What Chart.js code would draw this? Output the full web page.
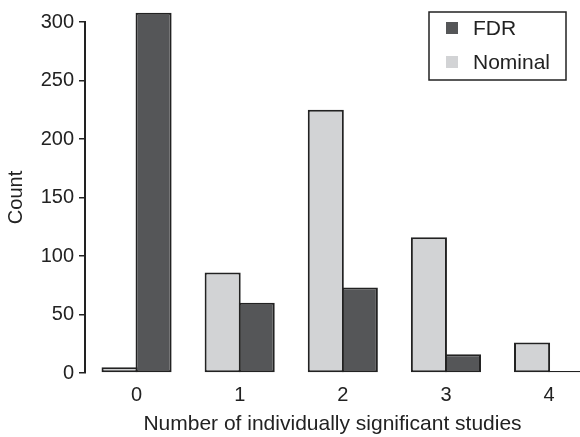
<!DOCTYPE html>
<html>
<head>
<meta charset="utf-8">
<script src="https://cdn.jsdelivr.net/npm/chart.js@4.4.1/dist/chart.umd.min.js"></script>
<style>
    html, body { margin: 0; padding: 0; overflow: hidden; background: #fff; }
    #wrap { width: 580px; height: 437px; }
</style>
</head>
<body>
<div id="wrap"><canvas id="chart" width="580" height="437"></canvas></div>
<script>
// Dados
const studyCounts = [0, 1, 2, 3, 4];
const nominalCounts = [5, 86, 225, 116, 26];
const fdrCounts = [308, 60, 73, 16, 1];
const countTicks = [0, 50, 100, 150, 200, 250, 300];

const FONT = '"Liberation Sans", Arial, Helvetica, sans-serif';
const INK = '#222';

// Legenda com moldura, desenhada no canto superior direito
const boxLegend = {
    id: 'boxLegend',
    afterDraw(chart) {
        const ctx = chart.ctx;
        const items = chart.data.datasets.slice().reverse();
        ctx.save();
        ctx.fillStyle = '#fff';
        ctx.fillRect(429, 12, 137, 68);
        ctx.lineWidth = 1.5;
        ctx.strokeStyle = INK;
        ctx.strokeRect(429, 12, 137, 68);
        ctx.font = '21px ' + FONT;
        ctx.textBaseline = 'middle';
        items.forEach((ds, i) => {
            const y = 28 + i * 34;
            ctx.fillStyle = ds.backgroundColor;
            ctx.fillRect(446, y - 6, 12, 12);
            ctx.fillStyle = INK;
            ctx.fillText(ds.label, 473, y + 1);
        });
        ctx.restore();
    }
};

new Chart(document.getElementById('chart'), {
    type: 'bar',
    data: {
        labels: studyCounts,
        datasets: [
            {
                label: 'Nominal',
                data: nominalCounts,
                backgroundColor: '#d2d3d5',
                borderColor: INK,
                borderWidth: 2,
                borderSkipped: false,
                minBarLength: 2,
                clip: false
            },
            {
                label: 'FDR',
                data: fdrCounts,
                backgroundColor: '#555658',
                borderColor: INK,
                borderWidth: 2,
                borderSkipped: false,
                minBarLength: 2,
                clip: false
            }
        ]
    },
    options: {
        responsive: false,
        animation: false,
        layout: { padding: { top: 22, right: 0, left: 0, bottom: 0 } },
        datasets: {
            bar: { barPercentage: 1.06, categoryPercentage: 0.66 }
        },
        plugins: {
            legend: { display: false },
            tooltip: { enabled: false }
        },
        scales: {
            x: {
                type: 'linear',
                min: -0.5,
                max: 4.3,
                offset: false,
                grid: { display: false, drawTicks: false },
                border: { display: false },
                ticks: {
                    color: INK,
                    font: { family: FONT, size: 20 },
                    padding: 10,
                    callback: v => String(v)
                },
                afterBuildTicks(scale) {
                    scale.ticks = studyCounts.map(v => ({ value: v }));
                },
                title: {
                    display: true,
                    text: 'Number of individually significant studies',
                    color: INK,
                    font: { family: FONT, size: 21 },
                    padding: { top: 0, bottom: 0 }
                },
                afterFit(scale) { scale.height = 64; }
            },
            y: {
                min: 0,
                max: 300,
                grid: { drawOnChartArea: false, drawTicks: true, tickLength: 6, color: INK, lineWidth: 1.5 },
                border: { display: true, color: INK, width: 2 },
                ticks: { color: INK, font: { family: FONT, size: 20 }, padding: 5 },
                afterBuildTicks(scale) {
                    scale.ticks = countTicks.map(v => ({ value: v }));
                },
                title: {
                    display: true,
                    text: 'Count',
                    color: INK,
                    font: { family: FONT, size: 20 },
                    padding: { top: 4, bottom: 0 }
                },
                afterFit(scale) { scale.width = 85; }
            }
        }
    },
    plugins: [boxLegend]
});
</script>
</body>
</html>
